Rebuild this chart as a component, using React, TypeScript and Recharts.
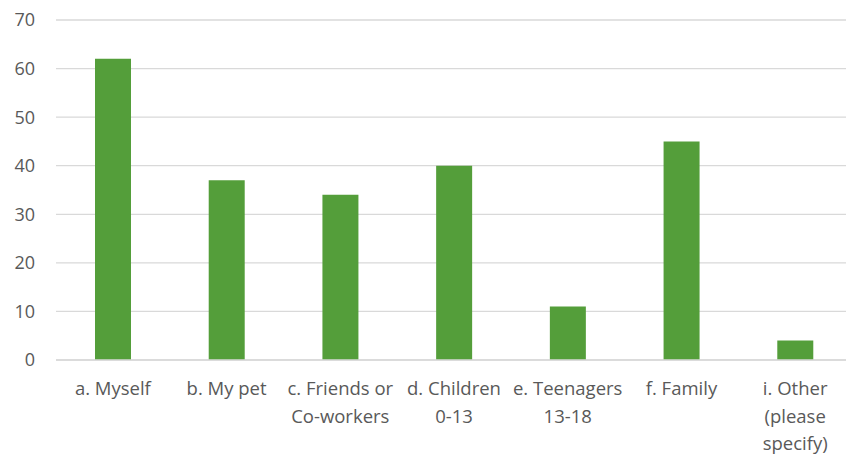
import { Bar, BarChart, CartesianGrid, XAxis, YAxis } from "recharts";

const categories = [
  "a. Myself",
  "b. My pet",
  "c. Friends or\nCo-workers",
  "d. Children\n0-13",
  "e. Teenagers\n13-18",
  "f. Family",
  "i. Other\n(please\nspecify)",
];
const counts = [62, 37, 34, 40, 11, 45, 4];
const yTicks = [0, 10, 20, 30, 40, 50, 60, 70];

const data = categories.map((name, i) => ({ name, value: counts[i] }));

const textColor = "#595959";
const font = "'Open Sans', sans-serif";

function CategoryTick(props: any) {
  const { x, y, payload } = props;
  const lines = String(payload.value).split("\n");
  return (
    <g transform={`translate(${x},${y})`}>
      {lines.map((line: string, i: number) => (
        <text
          key={i}
          x={0}
          y={35 + i * 27.5}
          textAnchor="middle"
          fill={textColor}
          fontSize={18.5}
          fontFamily={font}
        >
          {line}
        </text>
      ))}
    </g>
  );
}

export default function App() {
  return (
    <div
      style={{
        position: "absolute",
        left: 0,
        top: 0,
        width: 846,
        height: 454,
        overflow: "hidden",
        background: "#ffffff",
      }}
    >
      <BarChart
        width={852}
        height={454}
        data={data}
        margin={{ top: 20, right: 0, left: 0, bottom: 0 }}
        barSize={36}
      >
        <CartesianGrid stroke="#d9d9d9" strokeWidth={1.3} vertical={false} />
        <XAxis
          dataKey="name"
          interval={0}
          height={94}
          tickLine={false}
          axisLine={{ stroke: "#d9d9d9", strokeWidth: 1.3 }}
          tickSize={0}
          tickMargin={0}
          tick={<CategoryTick />}
        />
        <YAxis
          width={56}
          domain={[0, 70]}
          ticks={yTicks}
          tickLine={false}
          axisLine={false}
          tickSize={0}
          tickMargin={21}
          tick={{ fill: textColor, fontSize: 18, fontFamily: font }}
        />
        <Bar dataKey="value" fill="#549e3a" isAnimationActive={false} />
      </BarChart>
    </div>
  );
}
